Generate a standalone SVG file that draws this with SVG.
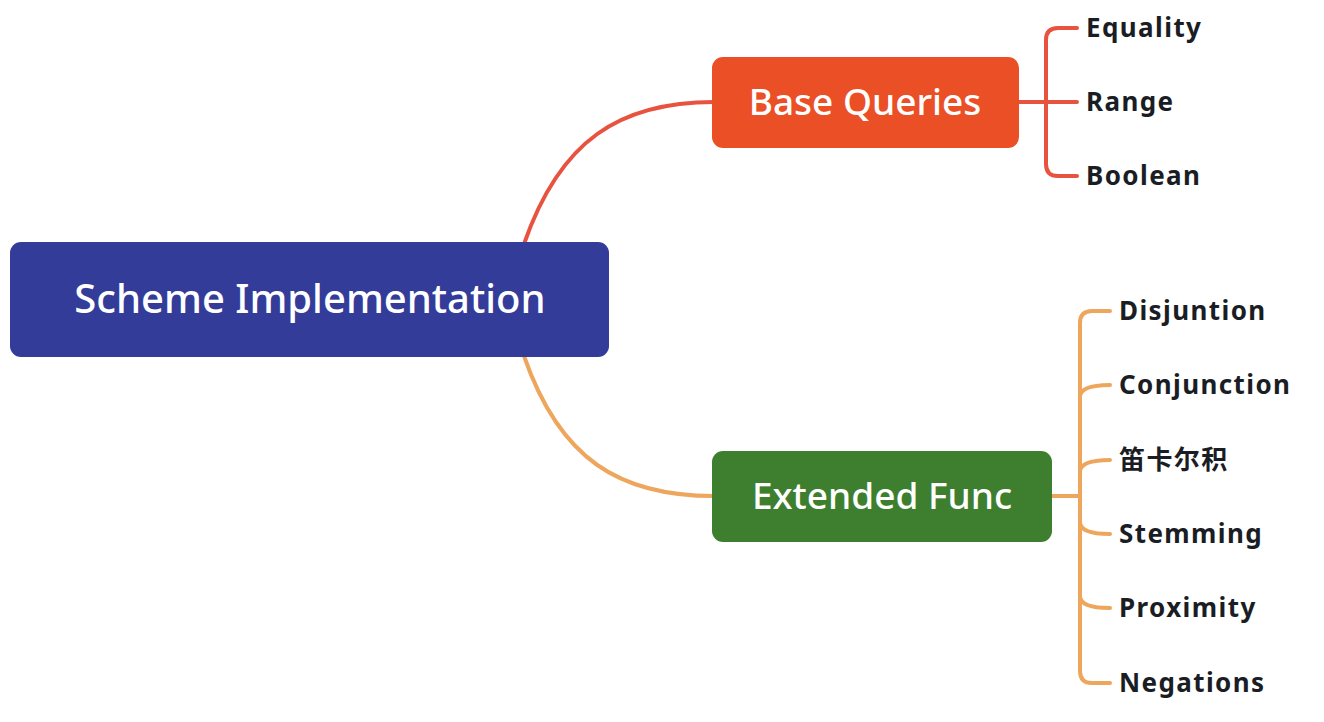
<svg xmlns="http://www.w3.org/2000/svg" width="1324" height="722" viewBox="0 0 1324 722">
<style>
.node-text{font-family:"Noto Sans","Open Sans","Liberation Sans",sans-serif;fill:#ffffff;font-weight:500}
.leaf{font-family:"Noto Sans","Open Sans","Noto Sans CJK SC",sans-serif;font-weight:700;font-size:26px;letter-spacing:1.4px;fill:#1a1d24;dominant-baseline:central}
.red{fill:none;stroke:#E8533F;stroke-width:4;stroke-linecap:round}
.orange{fill:none;stroke:#EDA65C;stroke-width:4;stroke-linecap:round}
</style>
<rect width="1324" height="722" fill="#ffffff"/>
<g id="connectors">
<path class="red" d="M524 244 C560 140 620 102 714 102"/>
<path class="orange" d="M524 356 C560 460 620 496 714 496"/>
<path class="red" d="M1019 102 H1077 M1077 28 H1058 Q1046 28 1046 40 V164 Q1046 176 1058 176 H1077"/>
<path class="orange" d="M1052 496 H1080 M1110 311 H1092 Q1080 311 1080 323 V671 Q1080 683 1092 683 H1110 M1110 385 Q1080 385 1080 397 M1110 460 Q1080 460 1080 472 M1080 522 Q1080 534 1110 534 M1080 596 Q1080 608 1110 608"/>
</g>
<g id="root">
<rect x="10" y="242" width="599" height="115" rx="11" fill="#333C99"/>
<text class="node-text" x="310" y="313" font-size="40" text-anchor="middle">Scheme Implementation</text>
</g>
<g id="base-queries">
<rect x="712" y="57" width="307" height="91" rx="11" fill="#EA4F26"/>
<text class="node-text" x="865" y="115" font-size="37" text-anchor="middle">Base Queries</text>
</g>
<g id="extended-func">
<rect x="712" y="451" width="340" height="91" rx="11" fill="#3D7F2E"/>
<text class="node-text" x="882" y="509" font-size="37" text-anchor="middle">Extended Func</text>
</g>
<g id="leaf-equality"><text class="leaf" x="1086" y="27">Equality</text></g>
<g id="leaf-range"><text class="leaf" x="1086" y="101">Range</text></g>
<g id="leaf-boolean"><text class="leaf" x="1086" y="175">Boolean</text></g>
<g id="leaf-disjuntion"><text class="leaf" x="1119" y="310">Disjuntion</text></g>
<g id="leaf-conjunction"><text class="leaf" x="1119" y="384">Conjunction</text></g>
<g id="leaf-cartesian"><text class="leaf" x="1119" y="459" font-family="'Noto Sans CJK SC',sans-serif" font-size="28" letter-spacing="0">笛卡尔积</text></g>
<g id="leaf-stemming"><text class="leaf" x="1119" y="533">Stemming</text></g>
<g id="leaf-proximity"><text class="leaf" x="1119" y="607">Proximity</text></g>
<g id="leaf-negations"><text class="leaf" x="1119" y="682">Negations</text></g>
</svg>
